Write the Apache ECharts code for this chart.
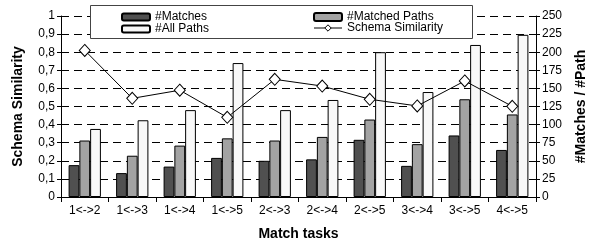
<!DOCTYPE html>
<html><head><meta charset="utf-8">
<script src="https://cdn.jsdelivr.net/npm/echarts@6/dist/echarts.min.js"></script>
<style>html,body{margin:0;padding:0;background:#fff}#c{width:589px;height:242px}</style>
</head><body><div id="c"></div>
<script>
var categories = ['1<->2','1<->3','1<->4','1<->5','2<->3','2<->4','2<->5','3<->4','3<->5','4<->5'];
var matches = [44, 33, 42, 54, 50, 52, 79, 43, 85, 65];
var matchedPaths = [78, 57, 71, 81, 78, 83, 107, 73, 135, 114];
var allPaths = [94, 106, 120, 185, 120, 134, 200, 145, 210, 224];
var similarity = [0.81, 0.545, 0.59, 0.44, 0.65, 0.613, 0.54, 0.503, 0.641, 0.501];

var FONT = 'Liberation Sans, Arial, sans-serif';
var chart = echarts.init(document.getElementById('c'), null, {renderer: 'canvas'});
var barBase = {type: 'bar', yAxisIndex: 1, barGap: '0%', barCategoryGap: '32%', animation: false};
chart.setOption({
  animation: false,
  textStyle: {fontFamily: FONT},
  grid: {left: 61, right: 53, top: 16, bottom: 45, containLabel: false, outerBoundsMode: 'none'},
  graphic: [{
    type: 'rect', left: 90, top: 5, z: 50,
    shape: {width: 382, height: 33},
    style: {fill: '#fff', stroke: '#444', lineWidth: 1}
  }],
  legend: [{
    data: ['#Matches', '#All Paths'], orient: 'vertical', left: 116, top: 6,
    itemWidth: 28, itemHeight: 7, itemGap: 0, z: 60,
    textStyle: {fontSize: 12, fontFamily: FONT, color: '#000', lineHeight: 12}
  }, {
    data: ['#Matched Paths', {name: 'Schema Similarity',
      itemStyle: {color: '#fff', borderColor: '#000', borderWidth: 1},
      lineStyle: {color: '#000', width: 1}}],
    orient: 'vertical', left: 308, top: 6,
    itemWidth: 28, itemHeight: 8, itemGap: -1, z: 60,
    textStyle: {fontSize: 12, fontFamily: FONT, color: '#000', lineHeight: 12}
  }],
  xAxis: {
    type: 'category', data: categories,
    name: 'Match tasks', nameLocation: 'middle', nameGap: 30,
    nameTextStyle: {fontSize: 14, fontWeight: 'bold', color: '#000', fontFamily: FONT},
    axisLine: {lineStyle: {color: '#000', width: 1}},
    axisTick: {show: true, alignWithLabel: false, length: 5, inside: false, lineStyle: {color: '#000'}},
    axisLabel: {fontSize: 12, color: '#000', margin: 8, fontFamily: FONT}
  },
  yAxis: [{
    type: 'value', min: 0, max: 1, interval: 0.1,
    name: 'Schema Similarity', nameLocation: 'middle', nameGap: 36, nameRotate: 90,
    nameTextStyle: {fontSize: 14, fontWeight: 'bold', color: '#000', fontFamily: FONT},
    axisLine: {show: true, lineStyle: {color: '#000'}},
    axisTick: {show: true, length: 4, lineStyle: {color: '#000'}},
    axisLabel: {fontSize: 12, color: '#000', margin: 6, fontFamily: FONT,
      formatter: function (v) { return (Math.round(v * 10) / 10).toString().replace('.', ','); }},
    splitLine: {show: true, lineStyle: {color: '#000', type: [8, 5], width: 1}}
  }, {
    type: 'value', min: 0, max: 250, interval: 25, position: 'right',
    name: '#Matches / #Path', nameLocation: 'middle', nameGap: 38, nameRotate: 90,
    nameTextStyle: {fontSize: 14, fontWeight: 'bold', color: '#000', fontFamily: FONT},
    axisLine: {show: true, lineStyle: {color: '#000'}},
    axisTick: {show: true, length: 4, lineStyle: {color: '#000'}},
    axisLabel: {fontSize: 12, color: '#000', margin: 6, fontFamily: FONT},
    splitLine: {show: false}
  }],
  series: [
    Object.assign({}, barBase, {name: '#Matches', data: matches,
      itemStyle: {color: '#505050', borderColor: '#000', borderWidth: 1}}),
    Object.assign({}, barBase, {name: '#Matched Paths', data: matchedPaths,
      itemStyle: {color: '#a3a3a3', borderColor: '#000', borderWidth: 1}}),
    Object.assign({}, barBase, {name: '#All Paths', data: allPaths,
      itemStyle: {color: '#f8f8f8', borderColor: '#000', borderWidth: 1}}),
    {name: 'Schema Similarity', type: 'line', yAxisIndex: 0, data: similarity,
      symbol: 'diamond', symbolSize: [11, 12], z: 10,
      lineStyle: {color: '#000', width: 1},
      itemStyle: {color: '#fff', borderColor: '#000', borderWidth: 1}}
  ]
});
</script></body></html>
